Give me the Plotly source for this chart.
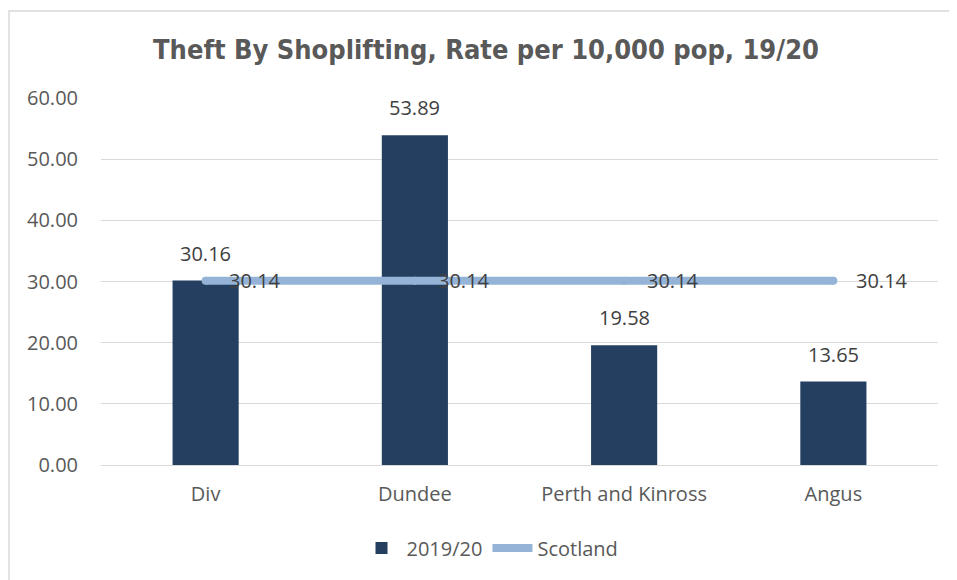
import plotly.graph_objects as go

categories = ["Div", "Dundee", "Perth and Kinross", "Angus"]
rate_2019_20 = [30.16, 53.89, 19.58, 13.65]
scotland = [30.14, 30.14, 30.14, 30.14]
y_ticks = [0, 10, 20, 30, 40, 50, 60]

# page body has an 8px margin; work in window coordinates then offset
OFF = 8
W, H = 957 - OFF, 580 - OFF
L, R, T, B = 101 - OFF, 19, 98 - OFF, 115
pw, ph = W - L - R, H - T - B

BAR = "#243F60"
LINE = "#95B3D7"
TXT = "#404040"
FONT = "Open Sans"
FS = 20

fig = go.Figure()
fig.add_trace(go.Bar(x=categories, y=rate_2019_20, name="2019/20",
                     marker=dict(color=BAR, line=dict(width=0))))
fig.add_trace(go.Scatter(x=categories, y=scotland, name="Scotland", mode="lines+markers",
                         line=dict(color=LINE, width=8),
                         marker=dict(color=LINE, size=8, line=dict(width=0))))

annotations = []
for c, v in zip(categories, rate_2019_20):
    annotations.append(dict(x=c, y=v, xref="x", yref="y", text=f"{v:.2f}", showarrow=False,
                            yanchor="bottom", yshift=12, font=dict(family=FONT, size=FS, color=TXT)))
for c, v in zip(categories, scotland):
    annotations.append(dict(x=c, y=v, xref="x", yref="y", text=f"{v:.2f}", showarrow=False,
                            xanchor="left", yanchor="middle", xshift=21,
                            font=dict(family=FONT, size=FS, color=TXT)))

fig.update_layout(
    width=W, height=H,
    margin=dict(l=L, r=R, t=T, b=B),
    paper_bgcolor="white", plot_bgcolor="white",
    bargap=0.684,
    title=dict(text="<b>Theft By Shoplifting, Rate per 10,000 pop, 19/20</b>",
               x=(486 - OFF) / W, xanchor="center", y=1 - (50 - OFF) / H, yanchor="middle",
               font=dict(family="Liberation Sans Narrow, DejaVu Sans Condensed, Liberation Sans",
                         size=27, color="#595959")),
    xaxis=dict(showgrid=False, showline=False, zeroline=False, ticks="",
               ticklabelstandoff=15,
               tickfont=dict(family=FONT, size=FS, color="#595959")),
    yaxis=dict(range=[0, 60], tickvals=y_ticks, tickformat=".2f",
               showgrid=True, gridcolor="#D9D9D9", gridwidth=1.3,
               zeroline=True, zerolinecolor="#D9D9D9", zerolinewidth=1.3,
               showline=False, ticks="", ticklabelstandoff=22,
               tickfont=dict(family=FONT, size=FS, color="#595959")),
    legend=dict(orientation="h", x=(490 - OFF) / W, xref="container", xanchor="center",
                y=1 - (548 - OFF) / H, yref="container", yanchor="middle",
                font=dict(family=FONT, size=FS, color="#595959"),
                itemwidth=40, tracegroupgap=0),
    annotations=annotations,
    shapes=[dict(type="rect", xref="paper", yref="paper",
                 x0=(1 - L) / pw, x1=(W + 5 - L) / pw,
                 y0=-(H + 5 - (H - B)) / ph, y1=((H - B) - (11 - OFF)) / ph,
                 line=dict(color="#D9D9D9", width=1.5), layer="below")],
    showlegend=True,
)

fig.write_html("out.html")
